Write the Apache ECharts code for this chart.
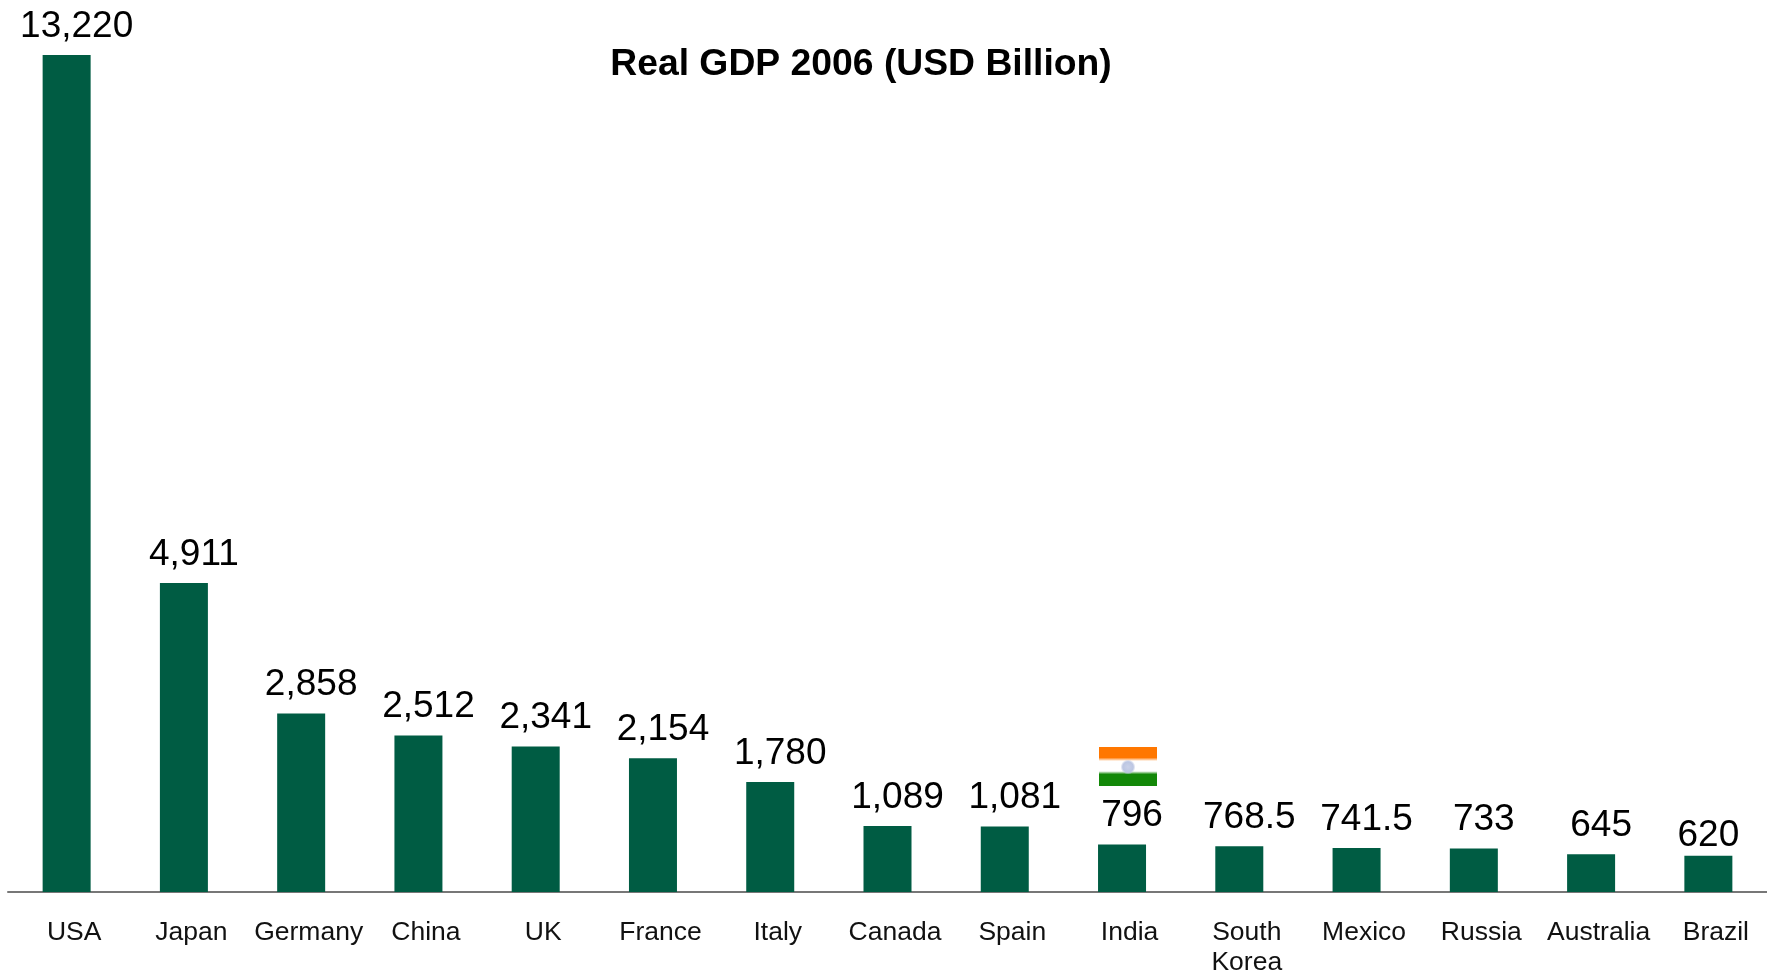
<!DOCTYPE html>
<html>
<head>
<meta charset="utf-8">
<style>html,body{margin:0;padding:0;background:#fff}#chart{width:1767px;height:975px}</style>
<script src="https://cdn.jsdelivr.net/npm/echarts@6/dist/echarts.min.js"></script>
</head>
<body>
<div id="chart"></div>
<script>
const countries = ['USA','Japan','Germany','China','UK','France','Italy','Canada','Spain','India','South\nKorea','Mexico','Russia','Australia','Brazil'];
const gdpBillions = [13220,4911,2858,2512,2341,2154,1780,1089,1081,796,768.5,741.5,733,645,620];

const FONT = '"Liberation Sans", Arial, Helvetica, sans-serif';
const chart = echarts.init(document.getElementById('chart'), null, {renderer:'canvas'});

// Brazil's label sits over its bar, closer to it, so it stays inside the frame.
const barData = gdpBillions.map((value, i) => countries[i] === 'Brazil'
  ? {value, label:{offset:[0,0], distance:1}}
  : value);

chart.setOption({
  animation:false,
  backgroundColor:'#ffffff',
  title:{
    text:'Real GDP 2006 (USD Billion)',
    left:856, top:41, textAlign:'center',
    textStyle:{fontFamily:FONT,fontSize:37.3,fontWeight:'bold',color:'#000'}
  },
  grid:{left:8,right:0,top:55,bottom:83,outerBoundsMode:'none'},
  xAxis:{
    type:'category',
    data:countries,
    axisLine:{show:true,lineStyle:{color:'#777777',width:2}},
    axisTick:{show:false},
    axisLabel:{
      interval:0,hideOverlap:false,margin:26,
      padding:[0,0,0,15],
      fontFamily:FONT,fontSize:26.5,lineHeight:30,color:'#111'
    }
  },
  // The value axis is hidden; its floor sits just above zero.
  yAxis:{type:'value',min:50,max:13220,show:false,splitLine:{show:false}},
  series:[{
    type:'bar',
    data:barData,
    barWidth:48,
    itemStyle:{color:'#005c43'},
    label:{
      show:true,position:'top',distance:10,offset:[10,0],
      fontFamily:FONT,fontSize:37,color:'#000',
      formatter:p=>p.value.toLocaleString('en-US')
    }
  }],
  // India's flag above its value
  graphic:[
    {type:'rect',shape:{x:1099,y:747,width:58,height:39},
     style:{fill:new echarts.graphic.LinearGradient(0,0,0,1,[
       {offset:0,color:'#ff7700'},{offset:0.27,color:'#ff7700'},{offset:0.36,color:'#ffffff'},
       {offset:0.62,color:'#ffffff'},{offset:0.70,color:'#138808'},{offset:1,color:'#138808'}])}},
    {type:'circle',shape:{cx:1128,cy:767,r:7.5},
     style:{fill:new echarts.graphic.RadialGradient(0.5,0.5,0.5,[
       {offset:0,color:'#c9d1e8'},{offset:0.7,color:'#bcc6e2'},{offset:1,color:'rgba(188,198,226,0)'}])}}
  ]
});
</script>
</body>
</html>
